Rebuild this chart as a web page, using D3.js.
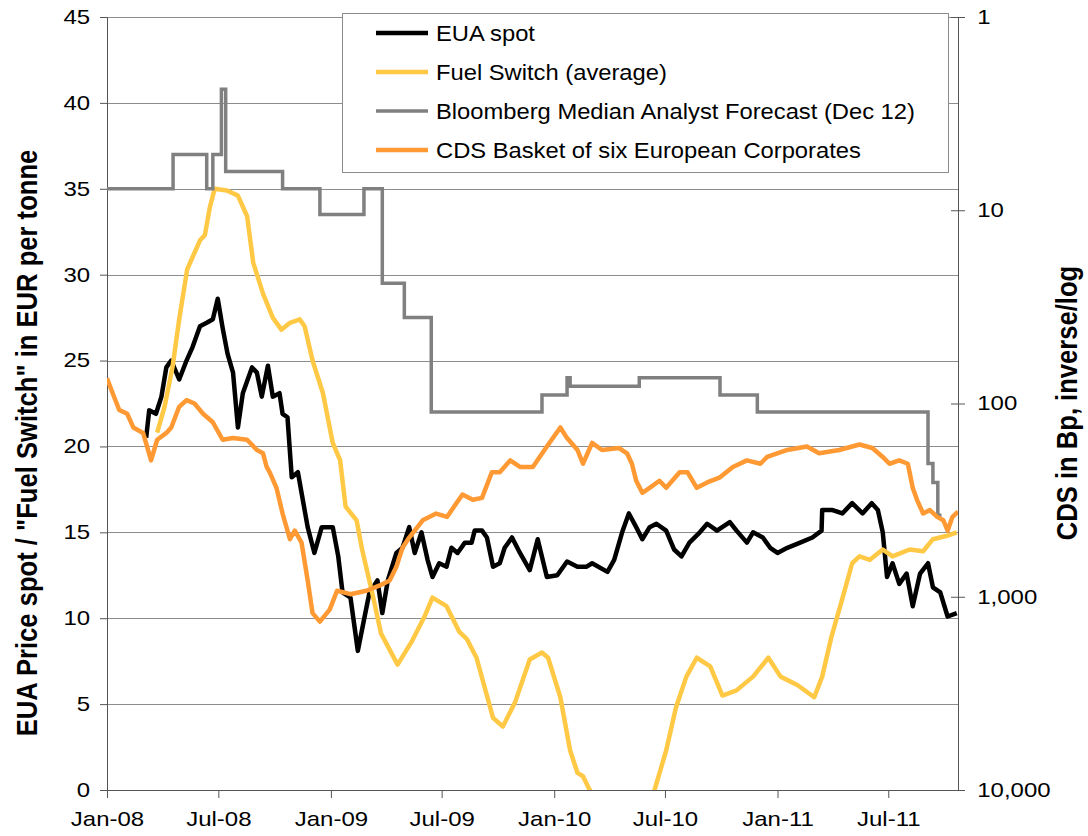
<!DOCTYPE html>
<html>
<head>
<meta charset="utf-8">
<script src="https://cdn.jsdelivr.net/npm/d3@7"></script>
<style>
  body { margin: 0; background: #fff; }
  text { font-family: "Liberation Sans", Arial, sans-serif; fill: #000; }
  .title { font-size: 25.6px; font-weight: bold; }
  .legend text { font-size: 22px; }
</style>
</head>
<body>
<svg width="1088" height="836"></svg>
<script>
// données
const euaSpot = [
  ["2008-03-05", 20.5], ["2008-03-10", 22.1], ["2008-03-21", 21.9], ["2008-03-30", 22.9],
  ["2008-04-07", 24.6], ["2008-04-15", 25.0], ["2008-04-28", 23.9], ["2008-05-10", 25.0],
  ["2008-05-20", 25.8], ["2008-06-01", 27.0], ["2008-06-12", 27.2], ["2008-06-22", 27.4],
  ["2008-06-30", 28.6], ["2008-07-08", 26.9], ["2008-07-16", 25.4], ["2008-07-25", 24.3],
  ["2008-08-02", 21.1], ["2008-08-10", 23.1], ["2008-08-25", 24.6], ["2008-09-02", 24.3],
  ["2008-09-10", 22.9], ["2008-09-20", 24.7], ["2008-09-28", 22.9], ["2008-10-09", 23.1],
  ["2008-10-14", 21.9], ["2008-10-22", 21.7], ["2008-10-29", 18.2], ["2008-11-08", 18.5],
  ["2008-11-24", 15.3], ["2008-12-05", 13.8], ["2008-12-17", 15.3], ["2009-01-04", 15.3],
  ["2009-01-13", 13.6], ["2009-01-20", 11.5], ["2009-02-02", 11.2], ["2009-02-14", 8.1],
  ["2009-02-24", 9.9], ["2009-03-05", 11.5], ["2009-03-18", 12.2], ["2009-03-26", 10.3],
  ["2009-04-04", 12.2], ["2009-04-18", 13.8], ["2009-04-28", 14.1], ["2009-05-09", 15.3],
  ["2009-05-18", 13.8], ["2009-05-29", 15.0], ["2009-06-08", 13.4], ["2009-06-16", 12.4],
  ["2009-06-27", 13.2], ["2009-07-09", 13.0], ["2009-07-17", 14.1], ["2009-07-27", 13.8],
  ["2009-08-08", 14.4], ["2009-08-19", 14.4], ["2009-08-24", 15.1], ["2009-09-05", 15.1],
  ["2009-09-13", 14.7], ["2009-09-23", 13.0], ["2009-10-04", 13.2], ["2009-10-12", 14.1],
  ["2009-10-24", 14.7], ["2009-11-06", 13.8], ["2009-11-22", 12.8], ["2009-12-05", 14.6],
  ["2009-12-20", 12.4], ["2010-01-06", 12.5], ["2010-01-22", 13.3], ["2010-02-08", 13.0],
  ["2010-02-23", 13.0], ["2010-03-04", 13.2], ["2010-03-29", 12.7], ["2010-04-09", 13.4],
  ["2010-04-22", 15.0], ["2010-05-03", 16.1], ["2010-05-15", 15.3], ["2010-05-25", 14.6],
  ["2010-06-06", 15.3], ["2010-06-17", 15.5], ["2010-07-03", 15.1], ["2010-07-16", 14.0],
  ["2010-07-28", 13.6], ["2010-08-10", 14.4], ["2010-08-27", 15.0], ["2010-09-08", 15.5],
  ["2010-09-24", 15.1], ["2010-10-15", 15.6], ["2010-10-26", 15.1], ["2010-11-12", 14.4],
  ["2010-11-22", 15.0], ["2010-12-08", 14.7], ["2010-12-20", 14.1], ["2011-01-01", 13.8],
  ["2011-01-17", 14.1], ["2011-02-07", 14.4], ["2011-02-27", 14.7], ["2011-03-14", 15.1],
  ["2011-03-15", 16.3], ["2011-04-01", 16.3], ["2011-04-17", 16.1], ["2011-05-03", 16.7],
  ["2011-05-20", 16.1], ["2011-06-04", 16.7], ["2011-06-14", 16.3], ["2011-06-22", 15.0],
  ["2011-06-29", 12.4], ["2011-07-08", 13.2], ["2011-07-19", 12.0], ["2011-07-31", 12.6],
  ["2011-08-10", 10.7], ["2011-08-22", 12.6], ["2011-09-04", 13.2], ["2011-09-12", 11.8],
  ["2011-09-24", 11.5], ["2011-10-06", 10.1], ["2011-10-21", 10.3]
];

const fuelSwitch = [
  ["2008-03-23", 20.8], ["2008-04-04", 22.3], ["2008-04-17", 24.6], ["2008-04-28", 27.4],
  ["2008-05-11", 30.3], ["2008-06-01", 32.0], ["2008-06-09", 32.3], ["2008-06-17", 33.9],
  ["2008-06-25", 35.0], ["2008-07-15", 34.9], ["2008-08-02", 34.6], ["2008-08-17", 33.4],
  ["2008-08-27", 30.7], ["2008-09-12", 28.9], ["2008-09-28", 27.5], ["2008-10-12", 26.8],
  ["2008-10-26", 27.2], ["2008-11-11", 27.4], ["2008-11-19", 27.0], ["2008-12-02", 25.0],
  ["2008-12-19", 23.1], ["2009-01-04", 20.2], ["2009-01-16", 19.2], ["2009-01-25", 16.5],
  ["2009-02-12", 15.7], ["2009-02-21", 14.0], ["2009-03-10", 11.4], ["2009-03-24", 9.1],
  ["2009-04-20", 7.3], ["2009-05-14", 8.7], ["2009-06-03", 10.1], ["2009-06-16", 11.2],
  ["2009-07-09", 10.7], ["2009-07-30", 9.2], ["2009-08-11", 8.8], ["2009-08-27", 7.7],
  ["2009-09-23", 4.2], ["2009-10-09", 3.7], ["2009-10-29", 5.1], ["2009-11-22", 7.6],
  ["2009-12-12", 8.0], ["2009-12-22", 7.7], ["2010-01-11", 5.4], ["2010-01-27", 2.3],
  ["2010-02-08", 1.0], ["2010-02-17", 0.8], ["2010-02-28", 0], ["2010-03-15", -1.5],
  ["2010-04-17", -3], ["2010-05-20", -2], ["2010-06-14", 0], ["2010-07-03", 2.3],
  ["2010-07-19", 4.8], ["2010-08-05", 6.6], ["2010-08-22", 7.7], ["2010-09-13", 7.2],
  ["2010-10-03", 5.5], ["2010-10-26", 5.8], ["2010-11-22", 6.6], ["2010-12-17", 7.7],
  ["2011-01-06", 6.6], ["2011-02-03", 6.1], ["2011-03-02", 5.4], ["2011-03-15", 6.6],
  ["2011-03-30", 8.9], ["2011-04-15", 10.9], ["2011-05-03", 13.2], ["2011-05-15", 13.6],
  ["2011-06-01", 13.4], ["2011-06-22", 14.0], ["2011-07-08", 13.6], ["2011-08-05", 14.0],
  ["2011-08-27", 13.9], ["2011-09-12", 14.6], ["2011-10-05", 14.8], ["2011-10-21", 15.0]
];

// prévision Bloomberg (en escalier)
const bloomberg = [
  ["2008-01-01", 35], ["2008-04-18", 37], ["2008-06-12", 35], ["2008-06-22", 37],
  ["2008-07-06", 40.8], ["2008-07-13", 36], ["2008-10-14", 35], ["2008-12-14", 33.5],
  ["2009-02-24", 35], ["2009-03-26", 29.5], ["2009-05-01", 27.5], ["2009-06-14", 22],
  ["2009-12-12", 23], ["2010-01-22", 24], ["2010-01-27", 23.5], ["2010-05-20", 24],
  ["2010-09-29", 23], ["2010-11-29", 22], ["2011-09-04", 19], ["2011-09-12", 17.9],
  ["2011-09-20", 16.0], ["2011-09-26", 16.0]
];

// CDS en points de base (axe de droite, inversé/log)
const cdsBasket = [
  ["2008-01-01", 74], ["2008-01-10", 88], ["2008-01-21", 108], ["2008-02-03", 113],
  ["2008-02-13", 133], ["2008-02-29", 142], ["2008-03-13", 197], ["2008-03-23", 154],
  ["2008-04-07", 142], ["2008-04-15", 133], ["2008-04-28", 104], ["2008-05-10", 96],
  ["2008-05-23", 100], ["2008-06-06", 113], ["2008-06-22", 125], ["2008-07-08", 154],
  ["2008-07-25", 151], ["2008-08-17", 154], ["2008-09-02", 174], ["2008-09-12", 181],
  ["2008-09-18", 213], ["2008-09-23", 227], ["2008-10-04", 273], ["2008-10-14", 371],
  ["2008-10-26", 504], ["2008-11-03", 455], ["2008-11-14", 525], ["2008-11-24", 823],
  ["2008-12-02", 1215], ["2008-12-14", 1345], ["2008-12-30", 1166], ["2009-01-11", 931],
  ["2009-02-02", 970], ["2009-02-28", 931], ["2009-03-21", 876], ["2009-04-07", 823],
  ["2009-04-18", 699], ["2009-04-28", 558], ["2009-05-09", 494], ["2009-05-31", 402],
  ["2009-06-22", 371], ["2009-07-10", 386], ["2009-07-25", 328], ["2009-08-04", 296],
  ["2009-08-21", 315], ["2009-09-05", 308], ["2009-09-21", 227], ["2009-10-04", 227],
  ["2009-10-21", 197], ["2009-11-06", 213], ["2009-11-27", 213], ["2009-12-20", 167],
  ["2010-01-11", 133], ["2010-01-22", 151], ["2010-02-08", 174], ["2010-02-17", 205],
  ["2010-03-04", 160], ["2010-03-20", 174], ["2010-04-17", 170], ["2010-04-30", 181],
  ["2010-05-08", 205], ["2010-05-15", 251], ["2010-05-25", 290], ["2010-06-06", 273],
  ["2010-06-22", 251], ["2010-07-03", 273], ["2010-07-25", 227], ["2010-08-07", 227],
  ["2010-08-22", 273], ["2010-09-08", 256], ["2010-09-29", 241], ["2010-10-20", 213],
  ["2010-11-12", 197], ["2010-12-04", 205], ["2010-12-15", 189], ["2011-01-17", 174],
  ["2011-02-18", 167], ["2011-03-10", 181], ["2011-04-12", 174], ["2011-05-15", 163],
  ["2011-06-05", 170], ["2011-06-22", 189], ["2011-07-03", 205], ["2011-07-19", 197],
  ["2011-08-02", 205], ["2011-08-10", 273], ["2011-08-17", 315], ["2011-08-27", 371],
  ["2011-09-07", 356], ["2011-09-19", 386], ["2011-09-29", 402], ["2011-10-06", 455],
  ["2011-10-14", 386], ["2011-10-23", 363]
];

const leftTicks = [0, 5, 10, 15, 20, 25, 30, 35, 40, 45];
const rightTicks = [1, 10, 100, 1000, 10000];
const dateTicks = ["2008-01-01", "2008-07-01", "2009-01-01", "2009-07-01",
  "2010-01-01", "2010-07-01", "2011-01-01", "2011-07-01"];
const dateRange = ["2008-01-01", "2011-10-23"];

const seriesNames = [
  "EUA spot",
  "Fuel Switch (average)",
  "Bloomberg Median Analyst Forecast (Dec 12)",
  "CDS Basket of six European Corporates"
];
const colors = ["#000000", "#FFC845", "#808080", "#FF9933"];
const widths = [4.5, 4.5, 3.5, 4.5];

// mise en page
const svg = d3.select("svg");
const WIDTH = +svg.attr("width");
const HEIGHT = +svg.attr("height");
const margin = { top: 17, right: 130, bottom: 46, left: 107 };
const innerWidth = WIDTH - margin.left - margin.right;
const innerHeight = HEIGHT - margin.top - margin.bottom;

// étirement horizontal des textes (police plus large que Liberation Sans)
const tickStretch = 1.2;

const parse = d3.timeParse("%Y-%m-%d");

const g = svg.append("g")
  .attr("transform", `translate(${margin.left},${margin.top})`);

// échelles
const x = d3.scaleTime()
  .domain(dateRange.map(parse))
  .range([0, innerWidth]);

const y = d3.scaleLinear()
  .domain([0, 45])
  .range([innerHeight, 0]);

// axe CDS inversé et logarithmique
const yR = d3.scaleLog()
  .domain([1, 10000])
  .range([0, innerHeight]);

// grille
g.append("g")
  .selectAll("line")
  .data(leftTicks.filter(d => d > 0))
  .join("line")
  .attr("x1", 0)
  .attr("x2", innerWidth)
  .attr("y1", d => Math.round(y(d)) + 0.5)
  .attr("y2", d => Math.round(y(d)) + 0.5)
  .attr("stroke", "#8c8c8c")
  .attr("stroke-width", 1);

// axe Y gauche
const axL = g.append("g")
  .call(d3.axisLeft(y).tickValues(leftTicks).tickSize(7).tickPadding(7));
axL.selectAll(".domain, .tick line").attr("stroke", "#555");

// axe Y droite
const axR = g.append("g")
  .attr("transform", `translate(${innerWidth},0)`)
  .call(d3.axisRight(yR).tickValues(rightTicks).tickFormat(d3.format(",")).tickSize(7).tickPadding(9));
axR.selectAll(".domain").attr("stroke", "#555");
axR.selectAll(".tick line").attr("stroke", "#555").attr("x1", -7);

// axe X
const axB = g.append("g")
  .attr("transform", `translate(0,${innerHeight})`)
  .call(d3.axisBottom(x).tickValues(dateTicks.map(parse)).tickFormat(d3.timeFormat("%b-%y")).tickSize(8).tickPadding(14));
axB.selectAll(".domain, .tick line").attr("stroke", "#555");
axB.select(".domain").attr("d", `M0,0.5H${innerWidth}`);

svg.selectAll(".tick text")
  .style("font-size", "20px")
  .attr("fill", "#000")
  .attr("transform", `scale(${tickStretch},1)`);

// courbes
svg.append("defs").append("clipPath").attr("id", "plot")
  .append("rect").attr("width", innerWidth).attr("height", innerHeight);

const lineLeft = d3.line().x(d => x(parse(d[0]))).y(d => y(d[1]));
const lineStep = d3.line().x(d => x(parse(d[0]))).y(d => y(d[1])).curve(d3.curveStepAfter);
const lineRight = d3.line().x(d => x(parse(d[0]))).y(d => yR(d[1]));

const lines = g.append("g").attr("clip-path", "url(#plot)");

lines.append("path").attr("d", lineLeft(euaSpot))
  .attr("fill", "none").attr("stroke", colors[0]).attr("stroke-width", widths[0])
  .attr("stroke-linejoin", "round");
lines.append("path").attr("d", lineLeft(fuelSwitch))
  .attr("fill", "none").attr("stroke", colors[1]).attr("stroke-width", widths[1])
  .attr("stroke-linejoin", "round");
lines.append("path").attr("d", lineStep(bloomberg))
  .attr("fill", "none").attr("stroke", colors[2]).attr("stroke-width", widths[2]);
lines.append("path").attr("d", lineRight(cdsBasket))
  .attr("fill", "none").attr("stroke", colors[3]).attr("stroke-width", widths[3])
  .attr("stroke-linejoin", "round");

// titres des axes (glyphes élargis dans le sens horizontal de l'écran)
svg.append("text")
  .attr("class", "title")
  .attr("transform", `translate(37,443) rotate(-90) scale(1,1.17)`)
  .attr("text-anchor", "middle")
  .text('EUA Price spot / "Fuel Switch" in EUR per tonne');

svg.append("text")
  .attr("class", "title")
  .attr("transform", `translate(1077,403) rotate(-90) scale(1,1.17)`)
  .attr("text-anchor", "middle")
  .text("CDS in Bp, inverse/log");

// légende
const legend = svg.append("g").attr("class", "legend");
legend.append("rect")
  .attr("x", 342.5).attr("y", 13.5)
  .attr("width", 606).attr("height", 159)
  .attr("fill", "#fff").attr("stroke", "#8c8c8c");

const items = legend.selectAll("g.item")
  .data(seriesNames)
  .join("g")
  .attr("class", "item")
  .attr("transform", (d, i) => `translate(0,${33 + i * 39})`);

items.append("line")
  .attr("x1", 376).attr("x2", 428)
  .attr("stroke", (d, i) => colors[i])
  .attr("stroke-width", (d, i) => widths[i]);

items.append("text")
  .attr("transform", "translate(436,0) scale(1.08,1)")
  .attr("dy", "0.36em")
  .text(d => d);
</script>
</body>
</html>
